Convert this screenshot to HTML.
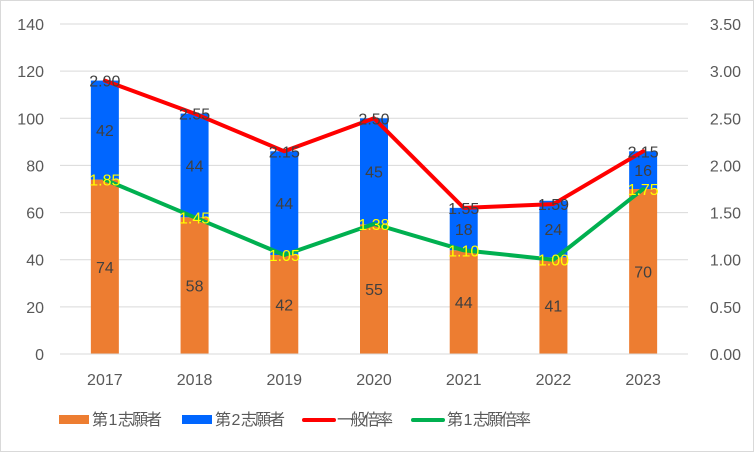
<!DOCTYPE html>
<html><head><meta charset="utf-8"><style>
html,body{margin:0;padding:0;background:#fff}
svg{display:block;font-family:"Liberation Sans","Noto Sans CJK JP",sans-serif}
</style></head><body>
<svg id="c" width="754" height="452">
<rect x="0.5" y="0.5" width="753" height="451" fill="#fff" stroke="#d9d9d9"/>
<g id="grid"></g><g id="bars"></g><g id="lines"></g><g id="labels"></g><g id="axes"></g>
<g id="legend">
<rect x="59" y="415" width="30" height="9" fill="#ed7d31"/>
<text x="92" y="425" font-size="16" fill="#595959" textLength="70">第 1 志願者</text>
<rect x="182" y="415" width="30" height="9" fill="#0066ff"/>
<text x="215" y="425" font-size="16" fill="#595959" textLength="70">第 2 志願者</text>
<line x1="304" y1="420" x2="334" y2="420" stroke="#ff0000" stroke-width="4" stroke-linecap="round"/>
<text x="337" y="425" font-size="16" fill="#595959" textLength="56">一般倍率</text>
<line x1="413" y1="420" x2="443" y2="420" stroke="#00b050" stroke-width="4" stroke-linecap="round"/>
<text x="447" y="425" font-size="16" fill="#595959" textLength="84">第 1 志願倍率</text>
</g>
</svg>
<script>
const categories=["2017","2018","2019","2020","2021","2022","2023"];
const firstApplicants=[74,58,42,55,44,41,70];
const secondApplicants=[42,44,44,45,18,24,16];
const generalRatio=[2.90,2.55,2.15,2.50,1.55,1.59,2.15];
const firstRatio=[1.85,1.45,1.05,1.38,1.10,1.00,1.75];
const leftTicks=[0,20,40,60,80,100,120,140];
const rightTicks=["0.00","0.50","1.00","1.50","2.00","2.50","3.00","3.50"];
const NS="http://www.w3.org/2000/svg";
const X0=60,X1=688,Y0=354,Y1=24,BW=28;
const step=(X1-X0)/categories.length;
const xc=i=>X0+step*(i+0.5);
const yL=v=>Y0-(v/140)*(Y0-Y1);
const yR=v=>Y0-(v/3.5)*(Y0-Y1);
function mk(tag,attrs,parent,txt){const e=document.createElementNS(NS,tag);for(const k in attrs)e.setAttribute(k,attrs[k]);if(txt!==undefined)e.textContent=txt;document.getElementById(parent).appendChild(e);return e;}
leftTicks.forEach((t,i)=>{
  const y=yL(t);
  if(t>0){const g=mk('line',{x1:X0,x2:X1,y1:y,y2:y,stroke:'#d9d9d9','stroke-width':1},'grid');
  
  }
  const l=mk('text',{x:44,y:y+6,'font-size':16,fill:'#595959','text-anchor':'end'},'axes',String(t));
  
  
  const r=mk('text',{x:741,y:y+6,'font-size':16,fill:'#595959','text-anchor':'end'},'axes',rightTicks[i]);
  
  
});
const ax=mk('line',{x1:X0,x2:X1,y1:Y0,y2:Y0,stroke:'#d9d9d9','stroke-width':1},'axes');


categories.forEach((c,i)=>{
  const t=mk('text',{x:xc(i),y:385,'font-size':16,fill:'#595959','text-anchor':'middle'},'axes',c);
  
  
  const a=firstApplicants[i],b=secondApplicants[i];
  const r1=mk('rect',{x:xc(i)-BW/2,y:yL(a),width:BW,height:Y0-yL(a),fill:'#ed7d31'},'bars');
  
  
  const r2=mk('rect',{x:xc(i)-BW/2,y:yL(a+b),width:BW,height:yL(a)-yL(a+b),fill:'#0066ff'},'bars');
  
  
  const l1=mk('text',{x:xc(i),y:(yL(a)+Y0)/2+6,'font-size':16,fill:'#404040','text-anchor':'middle'},'labels',String(a));
  
  
  const l2=mk('text',{x:xc(i),y:(yL(a)+yL(a+b))/2+6,'font-size':16,fill:'#404040','text-anchor':'middle'},'labels',String(b));
  
  
});
function line(data,color,name,txtColor){
  const pts=data.map((v,i)=>xc(i)+','+yR(v)).join(' ');
  const p=mk('polyline',{points:pts,fill:'none',stroke:color,'stroke-width':4,'stroke-linejoin':'round','stroke-linecap':'round'},'lines');
  
  
  data.forEach((v,i)=>{
    const t=mk('text',{x:xc(i),y:yR(v)+6,'font-size':16,fill:txtColor,'text-anchor':'middle'},'labels',v.toFixed(2));
    
    
  });
}
line(generalRatio,'#ff0000','general-ratio','#404040');
line(firstRatio,'#00b050','first-ratio','#ffff00');
</script>
</body></html>
